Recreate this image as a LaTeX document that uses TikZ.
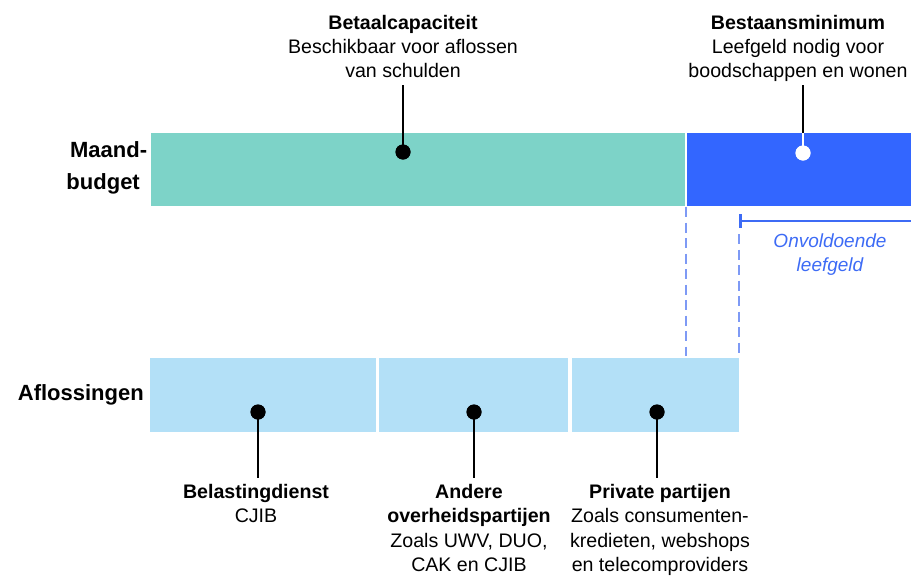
\documentclass[tikz,border=0pt]{standalone}
\usepackage{fontspec}
\setmainfont{Liberation Sans}
\definecolor{teal1}{HTML}{7DD3C8}
\definecolor{blue1}{HTML}{3366FF}
\definecolor{lblue}{HTML}{B3E0F7}
\definecolor{dashb}{HTML}{7E9AF5}
\definecolor{itb}{HTML}{3D6BF5}
\begin{document}
\begin{tikzpicture}[x=1pt,y=-1pt,
  txt/.style={font=\fontsize{19.6}{24.3}\selectfont, align=center, inner sep=0pt, anchor=north},
  rowlab/.style={font=\fontsize{22}{32}\selectfont\bfseries, inner sep=0pt},
  conn/.style={line width=2pt, black},
  dot/.style={circle, fill=black, inner sep=0pt, minimum size=15pt},
  wdot/.style={circle, fill=white, inner sep=0pt, minimum size=15pt},
  guide/.style={line width=1.4pt, dashb, dash pattern=on 10pt off 5.5pt},
]
\useasboundingbox (0,0) rectangle (911,579);
% bars
\fill[teal1] (151,133) rectangle (685,206);
\fill[blue1] (687,133) rectangle (911,206);
\fill[lblue] (150,358) rectangle (376,432);
\fill[lblue] (379,358) rectangle (568,432);
\fill[lblue] (572,358) rectangle (739,432);
% row labels
\node[rowlab, anchor=north east, align=right] (lMaand) at (140,141) {Maand\rlap{-}\\budget};
\node[rowlab, anchor=base east] (lAfl) at (144,400) {Aflossingen};
% top texts
\node[txt] (tBetaal) at (403,14.7) {\textbf{Betaalcapaciteit}\\Beschikbaar voor aflossen\\van schulden};
\node[txt] (tBestaan) at (798,14.7) {\textbf{Bestaansminimum}\\Leefgeld nodig voor\\boodschappen en wonen};
% bottom texts
\node[txt] (tBel) at (256,484.2) {\textbf{Belastingdienst}\\CJIB};
\node[txt] (tAnd) at (469,484.2) {\textbf{Andere}\\\textbf{overheidspartijen}\\Zoals UWV, DUO,\\CAK en CJIB};
\node[txt] (tPriv) at (660,484.2) {\textbf{Private partijen}\\Zoals consumenten-\\kredieten, webshops\\en telecomproviders};
% dots
\node[dot] (dBetaal) at (403,152) {};
\node[wdot] (dBestaan) at (803,153) {};
\node[dot] (dBel) at (258,412) {};
\node[dot] (dAnd) at (474,412) {};
\node[dot] (dPriv) at (657,412) {};
% connector ends
\coordinate (cBetaal) at (403,85);
\coordinate (cBestaan) at (803,85);
\coordinate (cBestaanBox) at (803,133);
\coordinate (cBel) at (258,478);
\coordinate (cAnd) at (474,478);
\coordinate (cPriv) at (657,478);
\draw[conn] (cBetaal) -- (dBetaal.center);
\draw[conn] (cBestaan) -- (cBestaanBox);
\draw[line width=2pt, white] (cBestaanBox) -- (dBestaan.center);
\node[wdot] at (dBestaan) {};
\draw[conn] (dBel.center) -- (cBel);
\draw[conn] (dAnd.center) -- (cAnd);
\draw[conn] (dPriv.center) -- (cPriv);
\node[dot] at (dBetaal) {};
\node[dot] at (dBel) {};
\node[dot] at (dAnd) {};
\node[dot] at (dPriv) {};
% dashed guides
\coordinate (gA1) at (686,207);
\coordinate (gA2) at (686,356);
\coordinate (gB1) at (739,234);
\coordinate (gB2) at (739,356);
\draw[guide] (gA1) -- (gA2);
\draw[guide] (gB1) -- (gB2);
% bracket
\coordinate (bL) at (740,221);
\coordinate (bR) at (911,221);
\coordinate (bT1) at (740.5,214);
\coordinate (bT2) at (740.5,228);
\draw[line width=2pt, itb] (bL) -- (bR);
\draw[line width=3pt, itb] (bT1) -- (bT2);
\node[txt, font=\fontsize{19}{23.5}\selectfont\itshape, text=itb] (tOnv) at (830,234) {Onvoldoende\\leefgeld};
\end{tikzpicture}
\end{document}
